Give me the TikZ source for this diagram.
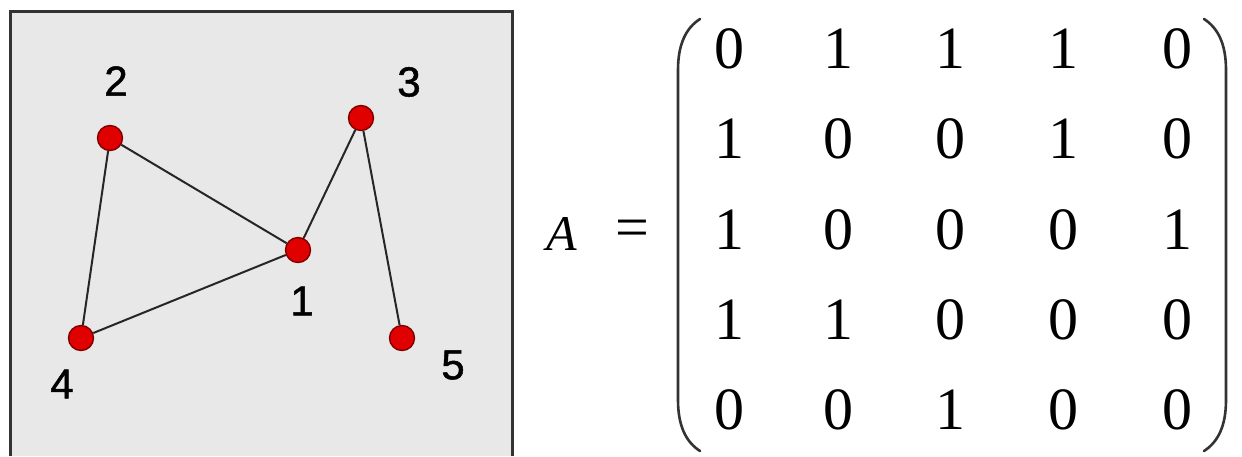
\documentclass[tikz,border=0pt]{standalone}
\usepackage{fontspec}
\setmainfont{Liberation Serif}
\newfontfamily\lblfont[FakeBold=1.2]{Liberation Sans}
\definecolor{panelbg}{HTML}{E8E8E8}
\definecolor{panelline}{HTML}{333333}
\definecolor{vred}{HTML}{E00000}
\definecolor{vredline}{HTML}{800000}
\begin{document}
\begin{tikzpicture}[x=1pt,y=-1pt,
  vertex/.style={circle,fill=vred,draw=vredline,line width=1.4pt,minimum size=25pt,inner sep=0pt},
  vlabel/.style={font=\lblfont\fontsize{42}{42}\selectfont,inner sep=0pt},
  edge/.style={line width=2pt,draw=black!85},
  entry/.style={font=\fontsize{60}{60}\selectfont,inner sep=0pt},
  paren/.style={line width=2.6pt,draw=black!80,line cap=round}]
\useasboundingbox (0,0) rectangle (1242,456);
% panel
\fill[panelbg] (10,11) rectangle (512,456);
\draw[line width=3pt,panelline] (10,456) -- (10,11) -- (512,11) -- (512,456);
% vertices
\node[vertex] (v1) at (298,250) {};
\node[vertex] (v2) at (110,138) {};
\node[vertex] (v3) at (361,118) {};
\node[vertex] (v4) at (81,338) {};
\node[vertex] (v5) at (402,338) {};
% edges
\draw[edge] (v2) -- (v1);
\draw[edge] (v2) -- (v4);
\draw[edge] (v4) -- (v1);
\draw[edge] (v1) -- (v3);
\draw[edge] (v3) -- (v5);
% labels
\node[vlabel] (l1) at (302,301) {1};
\node[vlabel] (l2) at (116,81) {2};
\node[vlabel] (l3) at (409,82) {3};
\node[vlabel] (l4) at (62,384) {4};
\node[vlabel] (l5) at (453,365) {5};
% matrix
\node[font=\itshape\fontsize{50}{50}\selectfont,inner sep=0pt] (A) at (562,234) {A};
\node[font=\fontsize{60}{60}\selectfont,inner sep=0pt] (eq) at (632,234) {=};
\draw[paren] (700,19) .. controls (686,28) and (678,44) .. (678,70) -- (678,400) .. controls (678,426) and (686,442) .. (700,451);
\draw[paren] (1204,19) .. controls (1218,28) and (1226,44) .. (1226,70) -- (1226,400) .. controls (1226,426) and (1218,442) .. (1204,451);
\foreach \r/\y in {1/49,2/139,3/230,4/320,5/410}{
  \foreach \c/\x in {1/729,2/838,3/950,4/1063,5/1177}{
    \coordinate (m\r\c) at (\x,\y);
  }
}
\node[entry] at (m11) {0}; \node[entry] at (m12) {1}; \node[entry] at (m13) {1}; \node[entry] at (m14) {1}; \node[entry] at (m15) {0};
\node[entry] at (m21) {1}; \node[entry] at (m22) {0}; \node[entry] at (m23) {0}; \node[entry] at (m24) {1}; \node[entry] at (m25) {0};
\node[entry] at (m31) {1}; \node[entry] at (m32) {0}; \node[entry] at (m33) {0}; \node[entry] at (m34) {0}; \node[entry] at (m35) {1};
\node[entry] at (m41) {1}; \node[entry] at (m42) {1}; \node[entry] at (m43) {0}; \node[entry] at (m44) {0}; \node[entry] at (m45) {0};
\node[entry] at (m51) {0}; \node[entry] at (m52) {0}; \node[entry] at (m53) {1}; \node[entry] at (m54) {0}; \node[entry] at (m55) {0};
\end{tikzpicture}
\end{document}
